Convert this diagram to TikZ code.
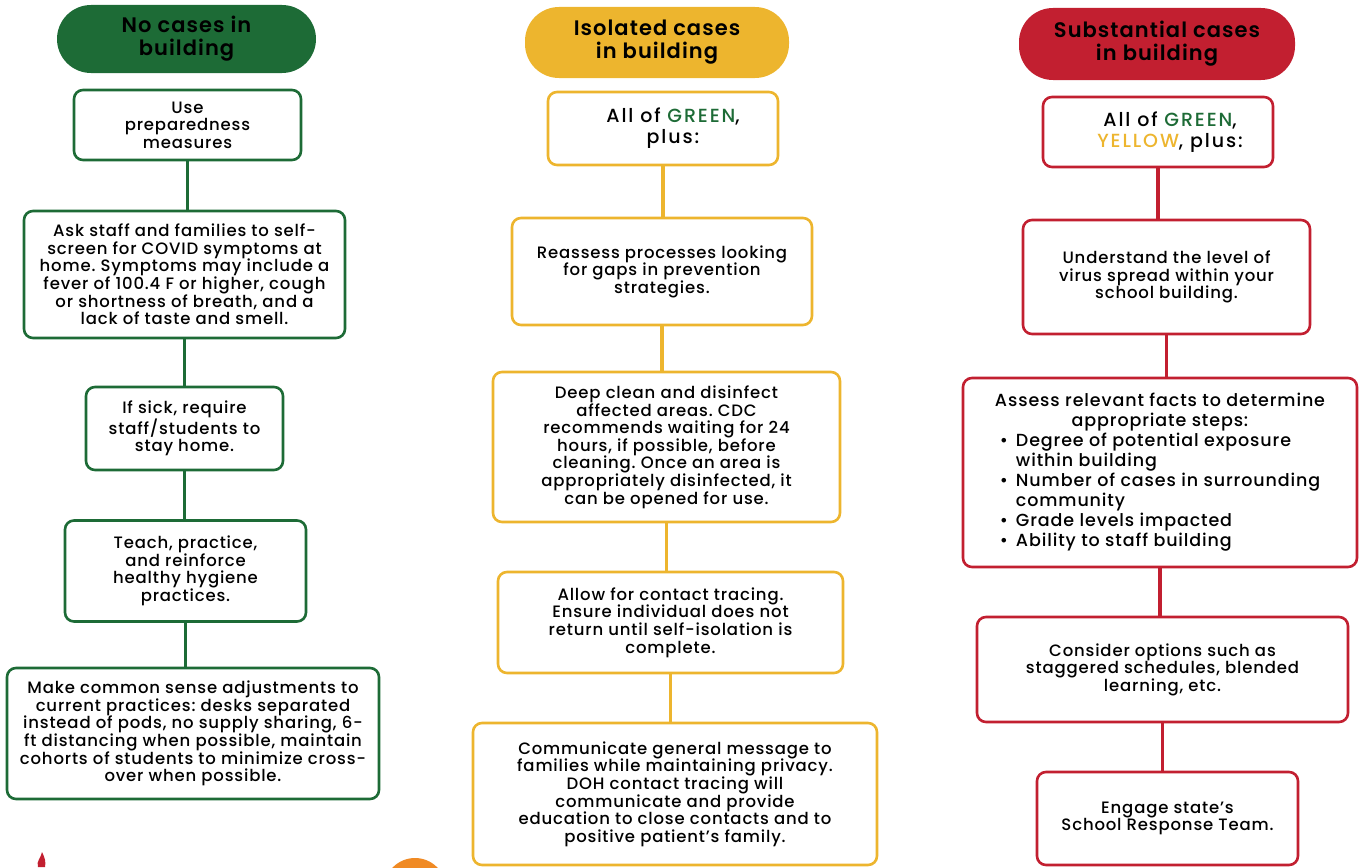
\documentclass[tikz,border=0pt]{standalone}
\usepackage{fontspec}
\setmainfont{Poppins}[UprightFont=* Medium, BoldFont=* SemiBold, LetterSpace=5]
\definecolor{covgreen}{HTML}{1D6B36}
\definecolor{covyellow}{HTML}{EDB52E}
\definecolor{covred}{HTML}{C21F30}
\definecolor{covorange}{HTML}{F08A24}
\tikzset{
  box/.style={draw, line width=2.6pt, rounded corners=9pt, fill=white, align=center,
    inner sep=0pt, font=\fontsize{16.5}{17.6}\selectfont},
  lead/.style={font=\fontsize{19}{21}\selectfont\addfontfeatures{LetterSpace=10}},
  head/.style={rounded corners=34pt, align=center, inner sep=0pt,
    font=\fontsize{21}{23}\selectfont\bfseries},
  link/.style={line width=3.8pt},
}
\frenchspacing

\begin{document}
\begin{tikzpicture}[x=1pt,y=-1pt]
  \useasboundingbox (0,0) rectangle (1359,867);

  % green column
  \node[head,fill=covgreen,minimum width=259,minimum height=68] (gHead) at (186.5,39) {No cases in\\building};
  \node[box,draw=covgreen,minimum width=227,minimum height=70] (g1) at (187.5,125) {Use\\preparedness\\measures};
  \node[box,draw=covgreen,minimum width=321,minimum height=127] (g2) at (184.5,274.5) {Ask staff and families to self-\\screen for COVID symptoms at\\home. Symptoms may include a\\fever of 100.4 F or higher, cough\\or shortness of breath, and a\\lack of taste and smell.};
  \node[box,draw=covgreen,minimum width=197,minimum height=83] (g3) at (184.5,428.5) {If sick, require\\staff/students to\\stay home.};
  \node[box,draw=covgreen,minimum width=241,minimum height=101] (g4) at (185.5,571) {Teach, practice,\\and reinforce\\healthy hygiene\\practices.};
  \node[box,draw=covgreen,minimum width=372,minimum height=131] (g5) at (193,733.5) {Make common sense adjustments to\\current practices: desks separated\\instead of pods, no supply sharing, 6-\\ft distancing when possible, maintain\\cohorts of students to minimize cross-\\over when possible.};
  \foreach \a/\b in {g1/g2,g2/g3,g3/g4,g4/g5}
    \draw[link,covgreen] (\a.south) -- (\a.south |- \b.north);

  % yellow column
  \node[head,fill=covyellow,minimum width=264,minimum height=71] (yHead) at (657,42.5) {Isolated cases\\in building};
  \node[box,lead,draw=covyellow,minimum width=230,minimum height=73] (y1) at (663,128.5) {\hspace*{20pt}All of \textcolor{covgreen}{GREEN},\\\hspace*{20pt}plus:};
  \node[box,draw=covyellow,minimum width=300,minimum height=107] (y2) at (662,271.5) {Reassess processes looking\\for gaps in prevention\\strategies.};
  \node[box,draw=covyellow,minimum width=347,minimum height=150] (y3) at (666.5,447) {Deep clean and disinfect\\affected areas. CDC\\recommends waiting for 24\\hours, if possible, before\\cleaning. Once an area is\\appropriately disinfected, it\\can be opened for use.};
  \node[box,draw=covyellow,minimum width=345,minimum height=101] (y4) at (670.5,622.5) {Allow for contact tracing.\\Ensure individual does not\\return until self-isolation is\\complete.};
  \node[box,draw=covyellow,minimum width=404,minimum height=142] (y5) at (675,794) {Communicate general message to\\families while maintaining privacy.\\DOH contact tracing will\\communicate and provide\\education to close contacts and to\\positive patient's family.};
  \foreach \a/\b in {y1/y2,y2/y3,y3/y4,y4/y5}
    \draw[link,covyellow] (\a.south) -- (\a.south |- \b.north);

  % red column
  \node[head,fill=covred,minimum width=276,minimum height=72] (rHead) at (1157,44) {Substantial cases\\in building};
  \node[box,lead,draw=covred,minimum width=230,minimum height=70] (r1) at (1158,132) {\hspace*{24pt}All of \textcolor{covgreen}{GREEN},\\\hspace*{24pt}\textcolor{covyellow}{YELLOW}, plus:};
  \node[box,draw=covred,minimum width=287,minimum height=114] (r2) at (1166.5,277) {Understand the level of\\virus spread within your\\school building.};
  \node[box,draw=covred,font=\fontsize{17.5}{20}\selectfont,minimum width=394,minimum height=189] (r3) at (1160,472.5) {Assess relevant facts to determine\\appropriate steps:\\
    \begin{tabular}{@{}l@{\hspace{8pt}}l@{}}
      \textbullet & Degree of potential exposure\\
                  & within building\\
      \textbullet & Number of cases in surrounding\\
                  & community\\
      \textbullet & Grade levels impacted\\
      \textbullet & Ability to staff building
    \end{tabular}};
  \node[box,draw=covred,minimum width=371,minimum height=105] (r4) at (1162.5,669.5) {Consider options such as\\staggered schedules, blended\\learning, etc.};
  \node[box,draw=covred,minimum width=261,minimum height=93] (r5) at (1167.5,818.5) {Engage state's\\School Response Team.};
  \foreach \a/\b in {r1/r2,r2/r3,r3/r4,r4/r5}
    \draw[link,covred] (\a.south) -- (\a.south |- \b.north);

  % cut-off marks at the foot of the page
  \fill[covorange] (415,889) circle (31);
  \fill[covred] (38,867) .. controls (36,861) and (41,858) .. (42,852) .. controls (45,858) and (46,862) .. (45,867) -- cycle;
\end{tikzpicture}
\end{document}
